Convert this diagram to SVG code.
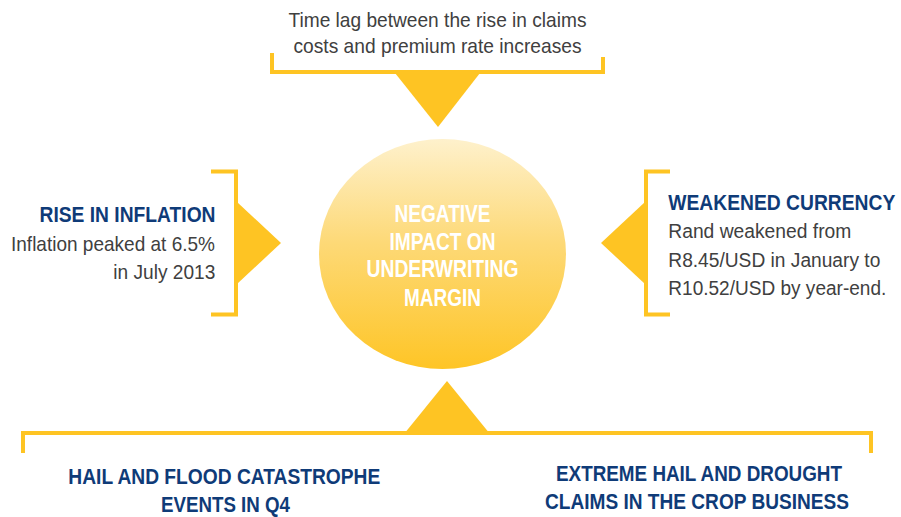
<svg xmlns="http://www.w3.org/2000/svg" width="901" height="517" viewBox="0 0 901 517">
<defs>
<linearGradient id="g" x1="0" y1="0" x2="0" y2="1">
<stop offset="0" stop-color="#FEF1CC"/>
<stop offset="0.45" stop-color="#FDD977"/>
<stop offset="1" stop-color="#FEC526"/>
</linearGradient>
<style>
.br{fill:none;stroke:#FEC423;stroke-width:4;stroke-linecap:butt}
.tri{fill:#FEC423}
.t{font-family:"Liberation Sans",Arial,sans-serif;font-size:21px;fill:#404040}
.h{font-family:"Liberation Sans",Arial,sans-serif;font-size:22px;font-weight:bold;fill:#0F3B78}
.c{font-family:"Liberation Sans",Arial,sans-serif;font-size:23px;font-weight:bold;fill:#FFFFFF;text-anchor:middle}
</style>
</defs>
<rect width="901" height="517" fill="#FFFFFF"/>
<g id="connectors">
<path class="br" d="M272,53 V72 H603 V57"/>
<polygon class="tri" points="395,73 480,73 438,127"/>
<path class="br" d="M211,171.5 H236 V314.5 H211"/>
<polygon class="tri" points="237,202 281,243 237,284"/>
<path class="br" d="M670,171.5 H646 V314.5 H670"/>
<polygon class="tri" points="645,202 601,243 645,284"/>
<path class="br" d="M23,453 V433 H871 V453"/>
<polygon class="tri" points="404,434 490,434 447,381"/>
</g>
<g id="center">
<ellipse cx="442.5" cy="254" rx="123.5" ry="115" fill="url(#g)"/>
<text class="c" x="442.5" y="222" textLength="96" lengthAdjust="spacingAndGlyphs">NEGATIVE</text>
<text class="c" x="442.5" y="249.5" textLength="106" lengthAdjust="spacingAndGlyphs">IMPACT ON</text>
<text class="c" x="442.5" y="277" textLength="152" lengthAdjust="spacingAndGlyphs">UNDERWRITING</text>
<text class="c" x="442.5" y="305.5" textLength="77" lengthAdjust="spacingAndGlyphs">MARGIN</text>
</g>
<g id="time-lag">
<text class="t" x="288.5" y="26.5" textLength="298" lengthAdjust="spacingAndGlyphs">Time lag between the rise in claims</text>
<text class="t" x="293.5" y="53" textLength="288" lengthAdjust="spacingAndGlyphs">costs and premium rate increases</text>
</g>
<g id="inflation">
<text class="h" x="39.5" y="222.3" textLength="176" lengthAdjust="spacingAndGlyphs">RISE IN INFLATION</text>
<text class="t" x="11" y="250.7" textLength="204" lengthAdjust="spacingAndGlyphs">Inflation peaked at 6.5%</text>
<text class="t" x="113.3" y="279.3" textLength="102" lengthAdjust="spacingAndGlyphs">in July 2013</text>
</g>
<g id="currency" transform="translate(668.3 0) scale(0.8 1)">
<text class="h" x="0" y="210" textLength="283.75" lengthAdjust="spacingAndGlyphs">WEAKENED CURRENCY</text>
<text class="t" x="0" y="238.3" textLength="228.75" lengthAdjust="spacingAndGlyphs">Rand weakened from</text>
<text class="t" x="0" y="266.7" textLength="265" lengthAdjust="spacingAndGlyphs">R8.45/USD in January to</text>
<text class="t" x="0" y="295" textLength="272.5" lengthAdjust="spacingAndGlyphs">R10.52/USD by year-end.</text>
</g>
<g id="hail-flood">
<text class="h" x="68.3" y="484.3" textLength="312" lengthAdjust="spacingAndGlyphs">HAIL AND FLOOD CATASTROPHE</text>
<text class="h" x="161" y="512.3" textLength="129" lengthAdjust="spacingAndGlyphs">EVENTS IN Q4</text>
</g>
<g id="crop">
<text class="h" x="556" y="480.7" textLength="286" lengthAdjust="spacingAndGlyphs">EXTREME HAIL AND DROUGHT</text>
<text class="h" x="545" y="508.5" textLength="304" lengthAdjust="spacingAndGlyphs">CLAIMS IN THE CROP BUSINESS</text>
</g>
</svg>
